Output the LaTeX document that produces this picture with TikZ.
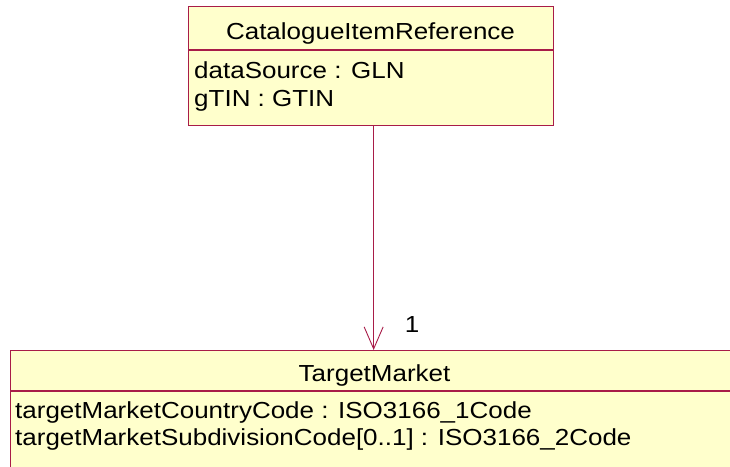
\documentclass[tikz,border=0pt]{standalone}
\usepackage{fontspec}
\setmainfont{Liberation Sans}[FakeStretch=1.12]
\usetikzlibrary{arrows.meta,calc}
\definecolor{umlfill}{RGB}{255,255,204}
\definecolor{umlline}{RGB}{168,28,72}
\begin{document}
\begin{tikzpicture}[x=1pt,y=-1pt,
  classbox/.style={draw=umlline,fill=umlfill,line width=1.3pt,inner sep=0pt,anchor=north west},
  umltext/.style={inner sep=0pt,font=\fontsize{23.2}{27}\selectfont},
  assoc/.style={draw=umlline,line width=0.9pt,-{Straight Barb[length=22pt,width=19pt,line width=0.9pt]}}]
\useasboundingbox (0,0) rectangle (730,466);
\clip (0,0) rectangle (730,466);
% top class
\node[classbox,minimum width=365pt,minimum height=119pt] (cir) at (188,6) {};
\draw[umlline,line width=1.2pt] (188,50) coordinate (cirl) -- (cirl -| cir.east);
\node[umltext,anchor=base] (cirt) at (370.5,39) {CatalogueItemReference};
\node[umltext,anchor=base west] (cira) at (194,78) {dataSource : GLN};
\node[umltext,anchor=base west] (cirb) at (194,106) {gTIN : GTIN};
% bottom class
\node[classbox,minimum width=730pt,minimum height=140pt] (tm) at (10,350) {};
\draw[umlline,line width=1.2pt] (10,391) coordinate (tml) -- (tml -| tm.east);
\node[umltext,anchor=base] (tmt) at (374.5,381) {TargetMarket};
\node[umltext,anchor=base west] (tma) at (15,418) {targetMarketCountryCode : ISO3166\_1Code};
\node[umltext,anchor=base west] (tmb) at (15,445) {targetMarketSubdivisionCode[0..1] : ISO3166\_2Code};
% association
\draw[assoc] ([xshift=2.5pt]cir.south) -- ([xshift=2.5pt]cir.south |- tm.north);
\node[umltext,anchor=base] (mult) at (412,332) {1};
\end{tikzpicture}
\end{document}
